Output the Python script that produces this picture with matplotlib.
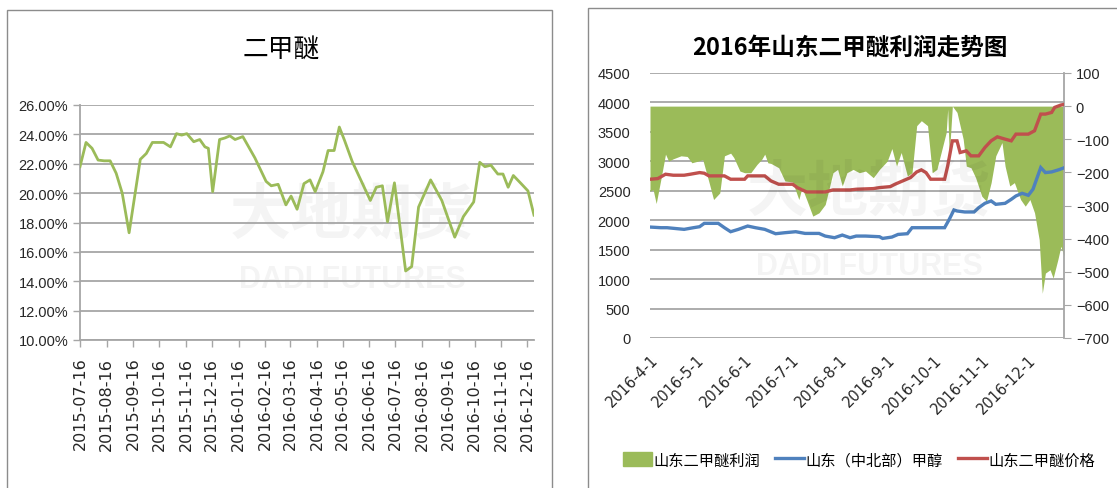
import matplotlib
matplotlib.use("Agg")
import matplotlib.pyplot as plt
from matplotlib.patches import Rectangle, Patch
from matplotlib.lines import Line2D
import numpy as np
import pandas as pd

plt.rcParams['font.family'] = ['Liberation Sans', 'DejaVu Sans']
CJK = ['Noto Sans CJK SC', 'DejaVu Sans']

# 左图: 二甲醚 (days since 2015-07-16, %)
left_day = [0, 7, 14, 21, 28, 35, 42, 49, 57, 70, 77, 84, 97, 105, 112, 118, 124, 132, 139,
            145, 149, 154, 162, 168, 174, 180, 189, 203, 216, 222, 230, 239, 245, 252, 260,
            267, 273, 282, 288, 295, 301, 307, 316, 337, 344, 351, 357, 365, 378, 385, 393,
            407, 420, 435, 445, 457, 464, 470, 477, 485, 491, 497, 503, 512, 520, 527]
left_val = [21.8, 23.45, 23.05, 22.25, 22.2, 22.2, 21.35, 20.0, 17.3, 22.3, 22.7, 23.45, 23.45,
            23.15, 24.05, 23.95, 24.05, 23.5, 23.65, 23.15, 23.05, 20.1, 23.65, 23.75, 23.9,
            23.65, 23.85, 22.4, 20.8, 20.5, 20.6, 19.2, 19.8, 18.9, 20.65, 20.9, 20.1, 21.45,
            22.9, 22.9, 24.5, 23.6, 22.15, 19.5, 20.4, 20.5, 18.05, 20.7, 14.7, 15.0, 19.05,
            20.9, 19.5, 17.0, 18.4, 19.4, 22.1, 21.8, 21.9, 21.3, 21.3, 20.4, 21.2, 20.65,
            20.15, 18.5]
left_yticks = [10, 12, 14, 16, 18, 20, 22, 24, 26]

# 右图: days since 2016-04-01
red_day = [0, 5, 10, 15, 22, 26, 32, 35, 38, 48, 52, 61, 63, 74, 78, 83, 92, 95, 101, 113,
           118, 129, 133, 144, 148, 155, 158, 163, 168, 172, 175, 178, 181, 190, 192, 195,
           198, 200, 204, 207, 212, 216, 220, 224, 229, 233, 236, 244, 248, 252, 255, 259,
           261, 265, 267]
red_val = [2696, 2707, 2781, 2764, 2764, 2781, 2809, 2798, 2753, 2753, 2696, 2696, 2753, 2753,
           2668, 2611, 2611, 2554, 2480, 2480, 2514, 2514, 2526, 2537, 2554, 2571, 2611, 2668,
           2724, 2820, 2855, 2809, 2696, 2696, 2923, 3348, 3348, 3150, 3178, 3093, 3093, 3235,
           3348, 3416, 3377, 3348, 3462, 3462, 3519, 3802, 3802, 3830, 3916, 3956, 3967]

blue_day = [0, 7, 11, 22, 28, 32, 35, 44, 48, 52, 57, 63, 68, 74, 81, 87, 94, 100, 109, 113,
            119, 124, 129, 133, 139, 148, 150, 156, 160, 166, 169, 174, 190, 193, 196, 198,
            203, 209, 212, 216, 220, 223, 229, 233, 236, 240, 244, 247, 252, 255, 259, 264, 267]
blue_val = [1884, 1873, 1873, 1845, 1873, 1890, 1947, 1947, 1873, 1805, 1845, 1901, 1873, 1845,
            1771, 1788, 1805, 1776, 1776, 1731, 1703, 1748, 1703, 1731, 1731, 1720, 1691, 1714,
            1759, 1771, 1873, 1873, 1873, 2015, 2174, 2157, 2140, 2140, 2213, 2287, 2327, 2270,
            2287, 2355, 2412, 2457, 2423, 2526, 2894, 2809, 2820, 2860, 2890]

profit_day = [0, 2, 4, 7, 10, 12, 15, 20, 24, 27, 31, 34, 38, 41, 45, 48, 52, 54, 58, 61, 65,
              69, 72, 74, 76, 78, 83, 87, 92, 96, 98, 101, 105, 109, 113, 118, 121, 124, 127,
              131, 135, 139, 144, 148, 153, 156, 159, 162, 166, 169, 172, 175, 179, 182, 185,
              191, 192, 193, 195, 198, 202, 204, 207, 210, 214, 217, 220, 223, 227, 229, 232,
              235, 239, 242, 245, 248, 251, 253, 255, 258, 260, 263, 265, 267]
profit_val = [-257, -252, -294, -221, -145, -166, -159, -150, -152, -171, -166, -161, -229,
              -282, -262, -150, -142, -155, -196, -201, -201, -176, -161, -145, -171, -173,
              -186, -226, -229, -282, -246, -282, -332, -322, -297, -201, -191, -241, -201,
              -191, -201, -196, -216, -191, -166, -128, -181, -140, -211, -201, -59, -44, -59,
              -201, -191, -80, -9, -150, 0, -19, -100, -181, -186, -216, -272, -287, -231,
              -150, -110, -181, -241, -231, -282, -302, -282, -322, -403, -565, -504, -494,
              -519, -464, -423, -453]

series_names = ['山东二甲醚利润', '山东（中北部）甲醇', '山东二甲醚价格']
GREEN, BLUE, RED = '#9BBB59', '#4F81BD', '#C0504D'
GRID = '#A6A6A6'
TXT = '#262626'

W, H = 1117, 489
fig = plt.figure(figsize=(W / 100, H / 100), dpi=100)

# panel frames
fig.add_artist(Rectangle((7 / W, -0.01), 545 / W, 1 - 11 / H + 0.01, transform=fig.transFigure,
                         fill=False, ec='#8C8C8C', lw=1))
fig.add_artist(Rectangle((588 / W, -0.01), 0.5, 1 - 9 / H + 0.01, transform=fig.transFigure,
                         fill=False, ec='#8C8C8C', lw=1))

# ---------------- left chart
left_start = pd.Timestamp('2015-07-16')
left_dates = left_start + pd.to_timedelta(left_day, unit='D')

ax1 = fig.add_axes([80 / W, 1 - 341 / H, (534 - 80) / W, (341 - 106) / H])
ax1.plot(left_dates, left_val, color=GREEN, lw=2, zorder=3)
ax1.set_ylim(10, 26)
ax1.set_yticks(left_yticks)
ax1.set_yticklabels([f'{v:.2f}%' for v in left_yticks], fontsize=10.5, color=TXT)
ax1.set_xlim(left_start, left_dates[-1])
lticks = pd.date_range('2015-07-16', periods=18, freq=pd.DateOffset(months=1))
ax1.set_xticks(lticks)
ax1.set_xticklabels([d.strftime('%Y-%m-%d') for d in lticks], rotation=90, fontsize=11.5,
                    color=TXT, family=['DejaVu Sans'])
ax1.grid(axis='y', color=GRID, lw=1.3)
for s in ['top', 'right']:
    ax1.spines[s].set_visible(False)
for s in ['left', 'bottom']:
    ax1.spines[s].set_color(GRID)
    ax1.spines[s].set_linewidth(1.3)
ax1.tick_params(length=5, color=GRID, width=1)
ax1.tick_params(axis='x', pad=7)
ax1.text(0.6, 0.53, '大地期货', transform=ax1.transAxes, ha='center', va='center', fontsize=44,
         weight='bold', family=CJK, color='#000000', alpha=0.045, zorder=1)
ax1.text(0.6, 0.26, 'DADI FUTURES', transform=ax1.transAxes, ha='center', va='center',
         fontsize=22, weight='bold', color='#000000', alpha=0.045, zorder=1)
fig.text(281 / W, 1 - 50 / H, '二甲醚', ha='center', va='center', fontsize=18.5, family=CJK,
         color='#000000')

# ---------------- right chart
right_start = pd.Timestamp('2016-04-01')
red_dates = right_start + pd.to_timedelta(red_day, unit='D')
blue_dates = right_start + pd.to_timedelta(blue_day, unit='D')
profit_dates = right_start + pd.to_timedelta(profit_day, unit='D')

rect = [650 / W, 1 - 339 / H, (1064 - 650) / W, (339 - 74) / H]
axg = fig.add_axes(rect)
axg.set_ylim(0, 4500)
axg.set_yticks(np.arange(0, 4501, 500))
axg.tick_params(axis='y', length=0, labelsize=10.5, labelcolor=TXT, pad=14)
axg.grid(axis='y', color=GRID, lw=1.3)
axg.set_xlim(right_start, right_start + pd.Timedelta(days=267))
rticks = pd.date_range('2016-04-01', '2016-12-01', freq='MS')
axg.set_xticks(rticks)
axg.set_xticklabels([f'{d.year}-{d.month}-{d.day}' for d in rticks], rotation=45, ha='right',
                    rotation_mode='anchor', fontsize=10.5, color=TXT, family=['DejaVu Sans'])
axg.tick_params(axis='x', length=0, pad=10)
for s in axg.spines.values():
    s.set_visible(False)

axp = axg.twinx()
axp.fill_between(profit_dates, profit_val, 0, color=GREEN, lw=0)
axp.set_ylim(-700, 100)
axp.set_yticks(np.arange(-700, 101, 100))
axp.tick_params(axis='y', length=5, color=GRID, labelsize=10.5, labelcolor=TXT)
for s in ['top', 'left', 'bottom']:
    axp.spines[s].set_visible(False)
axp.spines['right'].set_color(GRID)
axp.spines['right'].set_linewidth(1.3)

axl = fig.add_axes(rect, sharex=axg, sharey=axg)
axl.patch.set_visible(False)
axl.axis('off')
axl.plot(blue_dates, blue_val, color=BLUE, lw=2.4, solid_joinstyle='miter')
axl.plot(red_dates, red_val, color=RED, lw=2.4, solid_joinstyle='miter')
axl.text(0.53, 0.55, '大地期货', transform=axl.transAxes, ha='center', va='center', fontsize=44,
         weight='bold', family=CJK, color='#000000', alpha=0.045)
axl.text(0.53, 0.27, 'DADI FUTURES', transform=axl.transAxes, ha='center', va='center',
         fontsize=22, weight='bold', color='#000000', alpha=0.045)

fig.text(850 / W, 1 - 48 / H, '2016年山东二甲醚利润走势图', ha='center', va='center', fontsize=17,
         weight='bold', family=CJK, color='#000000')

handles = [Patch(color=GREEN), Line2D([], [], color=BLUE, lw=2.4), Line2D([], [], color=RED, lw=2.4)]
fig.legend(handles, series_names, loc='center', bbox_to_anchor=(859 / W, 1 - 461 / H), ncol=3,
           frameon=False, prop={'family': CJK, 'size': 11}, handlelength=1.9, handleheight=1.0,
           handletextpad=0.1, columnspacing=1.0)

fig.savefig('out.png', dpi=100)
